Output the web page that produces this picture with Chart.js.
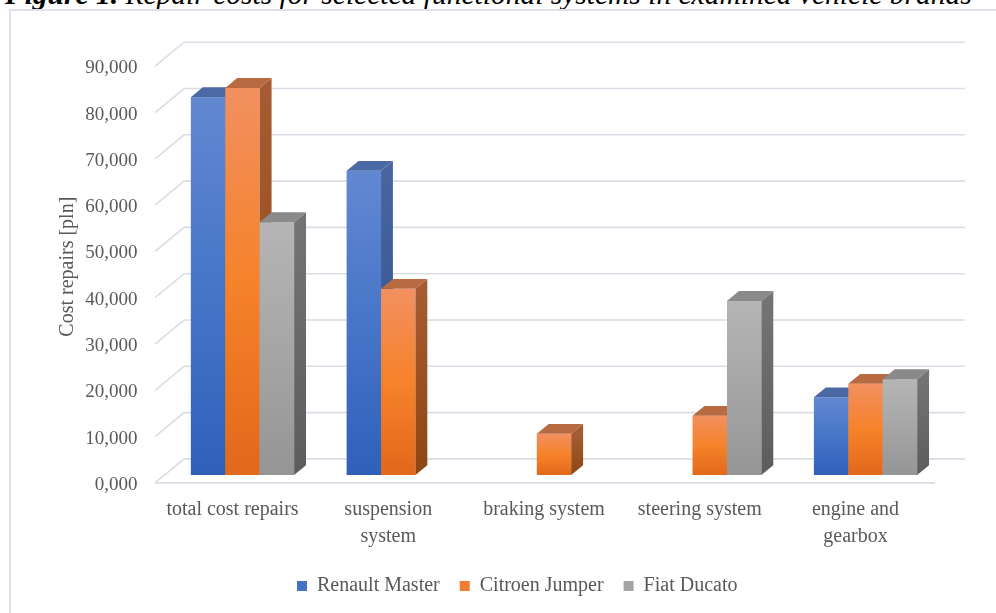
<!DOCTYPE html>
<html>
<head>
<meta charset="utf-8">
<script src="https://cdn.jsdelivr.net/npm/chart.js@4.4.0/dist/chart.umd.min.js"></script>
<style>
  html, body { margin: 0; padding: 0; background: #ffffff; }
  #wrap { position: relative; width: 996px; height: 613px; overflow: hidden; background: #fff; }
  #caption { position: absolute; left: 5px; top: -20.5px; white-space: nowrap;
    font-family: 'Liberation Serif', 'Times New Roman', serif; font-size: 29.5px; line-height: 29.5px; color: #000; }
  #caption b { font-weight: bold; font-style: italic; }
  #caption i { font-style: italic; }
  #frame { position: absolute; left: 9px; top: 9px; width: 1100px; height: 800px;
    border: 2px solid #dde1e9; box-sizing: border-box; }
  #c { position: absolute; left: 0; top: 0; }
</style>
</head>
<body>
<div id="wrap">
  <div id="caption"><b>Figure 1.</b> <i>Repair costs for selected functional systems in examined vehicle brands</i></div>
  <div id="frame"></div>
  <canvas id="c" width="996" height="613"></canvas>
</div>
<script>
// ---- data ----
const categories = [['total cost repairs'], ['suspension', 'system'], ['braking system'], ['steering system'], ['engine and', 'gearbox']];
const seriesNames = ['Renault Master', 'Citroen Jumper', 'Fiat Ducato'];
const renaultMaster = [81.6, 65.7, 0, 0, 16.8];
const citroenJumper = [83.6, 40.2, 8.9, 12.8, 19.7];
const fiatDucato = [54.6, 0, 0, 37.6, 20.7];
const yTickLabels = ['0,000', '10,000', '20,000', '30,000', '40,000', '50,000', '60,000', '70,000', '80,000', '90,000'];
const yAxisTitle = 'Cost repairs [pln]';

// ---- style ----
const FONT = "'Liberation Serif', 'Times New Roman', serif";
const TEXT = '#595959';
const legendColors = ['#4472c4', '#ed7d31', '#a5a5a5'];
const faces = [
  { front: ['#6288d1', '#4775c8', '#2f61ba'], side: ['#48659e', '#2b4f8e'], top: '#4b69a4' },
  { front: ['#f29060', '#f6822a', '#e2681a'], side: ['#a55c32', '#8e4614'], top: '#b86a40' },
  { front: ['#b5b5b5', '#a6a6a6', '#959595'], side: ['#747474', '#5c5c5c'], top: '#8a8a8a' }
];
const DEPTH = { x: 29, y: -24 };  // full floor depth (oblique projection)
const FRONT_T = 0.33;             // bar front plane position inside depth
const BACK_T = 0.74;              // bar back plane position inside depth

const threeD = {
  id: 'threeD',
  beforeDatasetsDraw(chart) {
    const { ctx } = chart;
    const xs = chart.scales.x, ys = chart.scales.y;
    const fx = -FRONT_T * DEPTH.x, fy = -FRONT_T * DEPTH.y;
    ctx.save();
    ctx.strokeStyle = '#d9dde5';
    ctx.lineWidth = 1.6;
    ys.ticks.forEach(t => {
      const yb = ys.getPixelForValue(t.value);
      const x0 = xs.left + fx, y0 = yb + fy;
      const x1 = x0 + DEPTH.x, y1 = y0 + DEPTH.y;
      const x2 = xs.right + fx + DEPTH.x + 2;
      ctx.beginPath();
      ctx.moveTo(x0, y0); ctx.lineTo(x1, y1); ctx.lineTo(x2, y1);
      ctx.stroke();
    });
    const yb0 = ys.getPixelForValue(0) + fy;
    ctx.beginPath();
    ctx.moveTo(xs.left + fx, yb0); ctx.lineTo(xs.right + fx + 1, yb0);
    ctx.stroke();
    ctx.restore();
  },
  beforeDatasetDraw() { return false; },
  afterDatasetsDraw(chart) {
    const { ctx } = chart;
    const dx = (BACK_T - FRONT_T) * DEPTH.x, dy = (BACK_T - FRONT_T) * DEPTH.y;
    const metas = chart.data.datasets.map((d, i) => chart.getDatasetMeta(i));
    ctx.save();
    for (let j = 0; j < chart.data.labels.length; j++) {
      metas.forEach((meta, i) => {
        const v = chart.data.datasets[i].data[j];
        if (!v) return;
        const el = meta.data[j];
        const l = el.x - el.width / 2, r = el.x + el.width / 2, t = el.y, b = el.base;
        const f = faces[i];
        const g = ctx.createLinearGradient(0, t, 0, b);
        g.addColorStop(0, f.front[0]); g.addColorStop(0.5, f.front[1]); g.addColorStop(1, f.front[2]);
        ctx.fillStyle = g;
        ctx.fillRect(l, t, r - l, b - t);
        const gs = ctx.createLinearGradient(0, t, 0, b);
        gs.addColorStop(0, f.side[0]); gs.addColorStop(1, f.side[1]);
        ctx.fillStyle = gs;
        ctx.beginPath();
        ctx.moveTo(r, t); ctx.lineTo(r + dx, t + dy); ctx.lineTo(r + dx, b + dy); ctx.lineTo(r, b);
        ctx.closePath(); ctx.fill();
        ctx.fillStyle = f.top;
        ctx.beginPath();
        ctx.moveTo(l, t); ctx.lineTo(l + dx, t + dy); ctx.lineTo(r + dx, t + dy); ctx.lineTo(r, t);
        ctx.closePath(); ctx.fill();
      });
    }
    ctx.restore();
  },
  afterLayout(chart) {
    const lg = chart.legend;
    if (!lg || !lg.lineWidths) return;
    const pad = lg.options.labels.padding;
    const startX = (lg.left + pad + lg.right - lg.lineWidths[0]) / 2;
    const shift = 297 - startX;
    lg.left += shift; lg.right += shift;
  }
};

const seriesData = [renaultMaster, citroenJumper, fiatDucato];
new Chart(document.getElementById('c'), {
  type: 'bar',
  data: {
    labels: categories,
    datasets: seriesNames.map((name, i) => ({
      label: name,
      data: seriesData[i],
      backgroundColor: legendColors[i],
      borderWidth: 0,
      categoryPercentage: 0.663,
      barPercentage: 1.0
    }))
  },
  options: {
    responsive: false,
    animation: false,
    devicePixelRatio: 1,
    layout: { padding: { left: 0, top: 58.3, right: 52.6, bottom: 7 } },
    scales: {
      x: {
        grid: { display: false, drawTicks: false },
        border: { display: false },
        ticks: {
          font: { family: FONT, size: 20, lineHeight: 1.35 },
          color: TEXT, padding: 21.5, labelOffset: -10,
          maxRotation: 0, minRotation: 0, autoSkip: false
        },
        afterFit(s) { s.height = 81; }
      },
      y: {
        min: 0, max: 90,
        grid: { display: false, drawTicks: false },
        border: { display: false },
        ticks: {
          stepSize: 10,
          font: { family: FONT, size: 19 },
          color: TEXT, padding: 27, labelOffset: 10,
          callback: v => yTickLabels[Math.round(v / 10)]
        },
        title: {
          display: true, text: yAxisTitle,
          font: { family: FONT, size: 20 }, color: TEXT,
          padding: { top: 56, bottom: 0 }
        },
        afterFit(s) { s.width = 164.6; }
      }
    },
    plugins: {
      legend: {
        position: 'bottom',
        labels: {
          font: { family: FONT, size: 20 }, color: TEXT,
          boxWidth: 10, boxHeight: 10, padding: 20
        }
      },
      tooltip: { enabled: false }
    }
  },
  plugins: [threeD]
});
</script>
</body>
</html>
